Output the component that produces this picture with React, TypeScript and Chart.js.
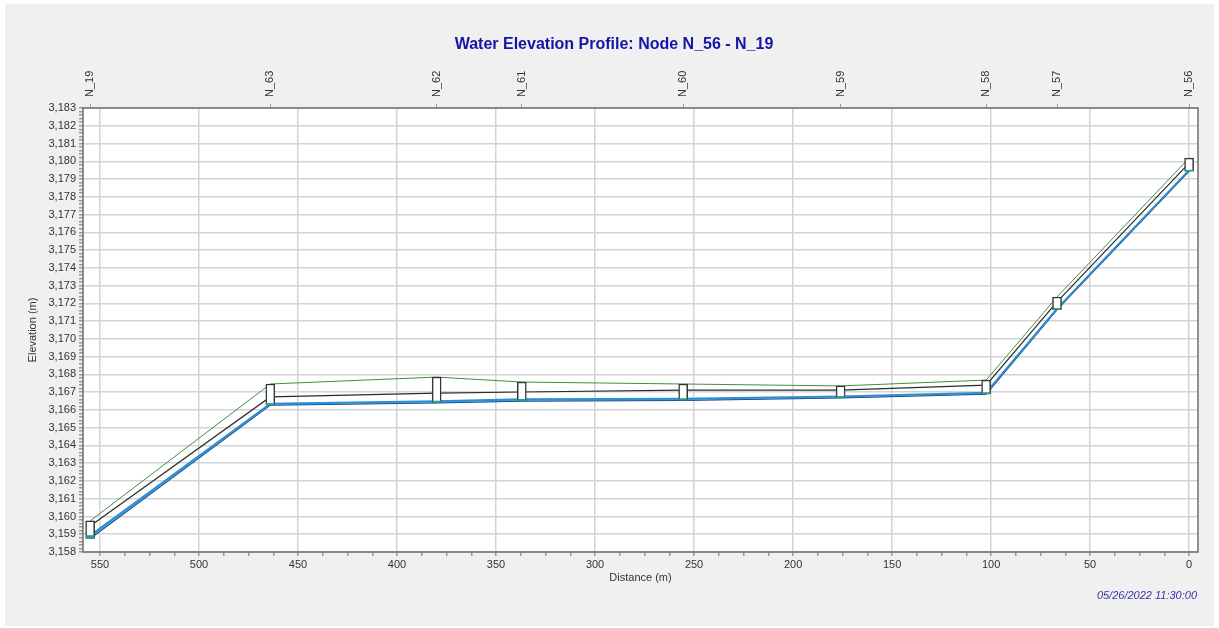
import React, { useEffect, useRef } from 'react';
import { Chart, registerables } from 'chart.js';

Chart.register(...registerables);

// ---- data ----
const nodeNames = ['N_19', 'N_63', 'N_62', 'N_61', 'N_60', 'N_59', 'N_58', 'N_57', 'N_56'];
const distances = [555, 464, 380, 337, 255.5, 176, 102.5, 66.7, 0];
const rimElevation = [3.15975, 3.16746, 3.16785, 3.16757, 3.16746, 3.16735, 3.16768, 3.17236, 3.18018];
const crownElevation = [3.15946, 3.16673, 3.16695, 3.16701, 3.16712, 3.16712, 3.1674, 3.17208, 3.1799];
const waterElevation = [3.15893, 3.16636, 3.1665, 3.1666, 3.16664, 3.16676, 3.16697, 3.1717, 3.1795];
const invertElevation = [3.15877, 3.16628, 3.1664, 3.1665, 3.16655, 3.16668, 3.1669, 3.17165, 3.17945];

const xTickLabels = [0, 50, 100, 150, 200, 250, 300, 350, 400, 450, 500, 550];
const yTickLabels = [
  3.158, 3.159, 3.16, 3.161, 3.162, 3.163, 3.164, 3.165, 3.166, 3.167, 3.168, 3.169, 3.17,
  3.171, 3.172, 3.173, 3.174, 3.175, 3.176, 3.177, 3.178, 3.179, 3.18, 3.181, 3.182, 3.183,
];
const xMin = -4.5;
const xMax = 558.6;
const xMinorPerMajor = 4;
const yMinorPerMajor = 5;

const chartTitle = 'Water Elevation Profile: Node N_56 - N_19';
const timeStamp = '05/26/2022 11:30:00';
const xTitle = 'Distance (m)';
const yTitle = 'Elevation (m)';

const FONT = '"Liberation Sans", Arial, sans-serif';
const TEXT = '#333333';

function pts(vals: number[]) {
  return distances.map((d, i) => ({ x: d, y: vals[i] }));
}
function ranges(lo: number[], hi: number[]) {
  return distances.map((d, i) => ({ x: d, y: [lo[i], hi[i]] }));
}
function minorTicks(majors: number[], per: number, lo: number, hi: number) {
  const out: number[] = [];
  const step = majors[1] - majors[0];
  for (let i = -1; i < majors.length; i++) {
    const base = i < 0 ? majors[0] - step : majors[i];
    for (let k = 0; k < per; k++) {
      const v = +(base + (step * k) / per).toFixed(6);
      if (v >= lo && v <= hi) out.push(v);
    }
  }
  const last = majors[majors.length - 1];
  if (last >= lo && last <= hi && !out.includes(last)) out.push(last);
  return Array.from(new Set(out)).sort((a, b) => a - b);
}
const isMajor = (list: number[], v: number) => list.some((m) => Math.abs(m - v) < 1e-7);

const decorPlugin = {
  id: 'decor',
  beforeDraw(chart: any) {
    const { ctx, chartArea: a } = chart;
    ctx.save();
    ctx.fillStyle = '#ffffff';
    ctx.fillRect(a.left, a.top, a.right - a.left, a.bottom - a.top);
    ctx.restore();
  },
  afterDraw(chart: any) {
    const { ctx, chartArea: a } = chart;
    ctx.save();
    ctx.strokeStyle = '#6e6e6e';
    ctx.lineWidth = 1.5;
    ctx.strokeRect(a.left, a.top, a.right - a.left, a.bottom - a.top);
    ctx.fillStyle = '#1414a6';
    ctx.font = `bold 16px ${FONT}`;
    ctx.textAlign = 'center';
    ctx.textBaseline = 'middle';
    ctx.fillText(chartTitle, 614, 45);
    ctx.fillStyle = '#3434a8';
    ctx.font = `italic 11px ${FONT}`;
    ctx.textAlign = 'right';
    ctx.fillText(timeStamp, 1197, 596);
    ctx.restore();
  },
};

export default function App() {
  const ref = useRef<HTMLCanvasElement | null>(null);

  useEffect(() => {
    if (!ref.current) return;
    const xTicks = minorTicks(xTickLabels, xMinorPerMajor, xMin, xMax);
    const yTicks = minorTicks(yTickLabels, yMinorPerMajor, yTickLabels[0], yTickLabels[yTickLabels.length - 1]);
    const tickFont = { family: FONT, size: 11 };

    const chart = new Chart(ref.current, {
      type: 'line',
      data: {
        datasets: [
          {
            label: 'Rim',
            data: pts(rimElevation),
            borderColor: '#3f8f3f',
            borderWidth: 1,
            pointRadius: 0,
            tension: 0,
            order: 3,
            xAxisID: 'x',
            yAxisID: 'y',
          },
          {
            label: 'Crown',
            data: pts(crownElevation),
            borderColor: '#2b2b2b',
            borderWidth: 1.2,
            pointRadius: 0,
            tension: 0,
            order: 3,
            xAxisID: 'x',
            yAxisID: 'y',
          },
          {
            label: 'Water',
            data: pts(waterElevation),
            borderColor: '#2b8fd2',
            borderWidth: 1.8,
            backgroundColor: '#3fa2dd',
            fill: '+1',
            pointRadius: 0,
            tension: 0,
            order: 3,
            xAxisID: 'x',
            yAxisID: 'y',
          },
          {
            label: 'Invert',
            data: pts(invertElevation),
            borderColor: '#1b3a7a',
            borderWidth: 1.5,
            pointRadius: 0,
            tension: 0,
            order: 3,
            xAxisID: 'x',
            yAxisID: 'y',
          },
          {
            type: 'bar',
            label: 'Node water',
            data: ranges(invertElevation, waterElevation) as any,
            backgroundColor: '#2a9a9a',
            borderWidth: 0,
            barThickness: 8,
            grouped: false,
            order: 0,
            xAxisID: 'x',
            yAxisID: 'y',
          } as any,
          {
            type: 'bar',
            label: 'Node',
            data: ranges(invertElevation, rimElevation) as any,
            backgroundColor: '#ffffff',
            borderColor: '#353535',
            borderWidth: 1.5,
            borderSkipped: false,
            barThickness: 9,
            grouped: false,
            order: 1,
            xAxisID: 'x',
            yAxisID: 'y',
          } as any,
        ],
      },
      options: {
        animation: false,
        responsive: false,
        devicePixelRatio: 1,
        events: [],
        layout: { padding: { left: 0, right: 21, top: 0, bottom: 0 } },
        plugins: {
          legend: { display: false },
          tooltip: { enabled: false },
        },
        scales: {
          x: {
            type: 'linear',
            position: 'bottom',
            reverse: true,
            offset: false,
            min: xMin,
            max: xMax,
            border: { display: false },
            afterBuildTicks: (s: any) => {
              s.ticks = xTicks.map((v) => ({ value: v }));
            },
            afterFit: (s: any) => {
              s.height = 76;
            },
            ticks: {
              autoSkip: false,
              maxRotation: 0,
              minRotation: 0,
              padding: 2,
              color: TEXT,
              font: tickFont,
              callback: (v: any) => (isMajor(xTickLabels, v) ? String(v) : ''),
            },
            grid: {
              offset: false,
              color: (c: any) => (c.tick && isMajor(xTickLabels, c.tick.value) ? '#d4d4d4' : 'rgba(0,0,0,0)'),
              tickColor: '#9a9a9a',
              lineWidth: 1.5,
              tickLength: 4,
            },
            title: {
              display: true,
              text: xTitle,
              color: TEXT,
              font: { family: FONT, size: 11 },
              padding: { top: 0, bottom: 43 },
            },
          },
          x2: {
            type: 'linear',
            position: 'top',
            reverse: true,
            offset: false,
            min: xMin,
            max: xMax,
            border: { display: false },
            afterBuildTicks: (s: any) => {
              s.ticks = distances.map((v) => ({ value: v }));
            },
            afterFit: (s: any) => {
              s.height = 108;
            },
            ticks: {
              autoSkip: false,
              minRotation: 90,
              maxRotation: 90,
              padding: 7,
              labelOffset: 13.2,
              color: TEXT,
              font: tickFont,
              callback: (_v: any, i: number) => nodeNames[i],
            },
            grid: {
              offset: false,
              drawOnChartArea: false,
              color: '#9a9a9a',
              tickLength: 4,
            },
          },
          y: {
            type: 'linear',
            position: 'left',
            min: yTickLabels[0],
            max: yTickLabels[yTickLabels.length - 1],
            border: { display: false },
            afterBuildTicks: (s: any) => {
              s.ticks = yTicks.map((v) => ({ value: v }));
            },
            afterFit: (s: any) => {
              s.width = 83;
            },
            ticks: {
              autoSkip: false,
              padding: 3,
              color: TEXT,
              font: tickFont,
              callback: (v: any) => (isMajor(yTickLabels, v) ? Number(v).toFixed(3).replace('.', ',') : ''),
            },
            grid: {
              color: (c: any) => (c.tick && isMajor(yTickLabels, c.tick.value) ? '#d4d4d4' : 'rgba(0,0,0,0)'),
              tickColor: '#9a9a9a',
              lineWidth: 1.5,
              tickLength: 4,
            },
            title: {
              display: true,
              text: yTitle,
              color: TEXT,
              font: { family: FONT, size: 11 },
              padding: { top: 26, bottom: 0 },
            },
          },
        },
      } as any,
      plugins: [decorPlugin],
    });
    return () => chart.destroy();
  }, []);

  return (
    <div style={{ position: 'absolute', left: 0, top: 0, width: 1219, height: 628, background: '#ffffff' }}>
      <div style={{ position: 'absolute', left: 5, top: 4, width: 1209, height: 622, background: '#f0f0f0' }} />
      <canvas
        ref={ref}
        width={1219}
        height={628}
        style={{ position: 'absolute', left: 0, top: 0, width: 1219, height: 628 }}
      />
    </div>
  );
}
